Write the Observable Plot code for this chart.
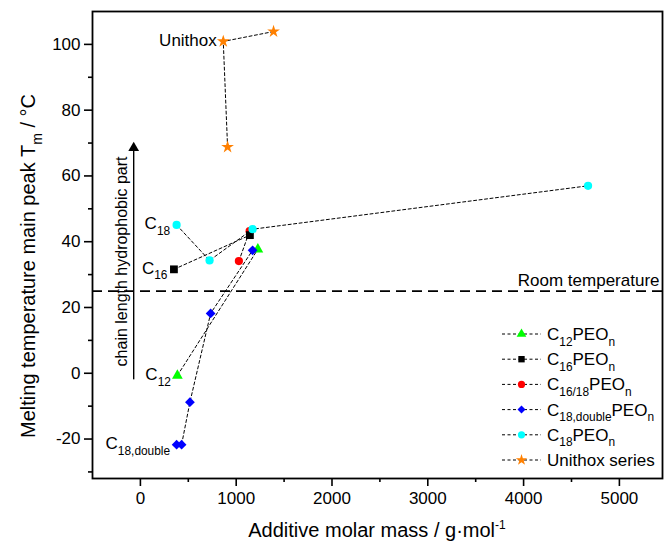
<!DOCTYPE html>
<html><head><meta charset="utf-8">
<script src="https://cdn.jsdelivr.net/npm/d3@7"></script>
<script src="https://cdn.jsdelivr.net/npm/@observablehq/plot@0.6"></script>
<style>body{margin:0;background:#fff;} svg{overflow:visible}</style>
</head><body><div id="chart"></div>
<script>
// ---- data ----
const seriesNames = ["C_{12}PEO_{n}", "C_{16}PEO_{n}", "C_{16/18}PEO_{n}", "C_{18,double}PEO_{n}", "C_{18}PEO_{n}", "Unithox series"];
const seriesColors = ["#00ff00", "#000000", "#ff0000", "#0000ff", "#00ffff", "#ff8000"];
const seriesSymbols = ["triangle", "square", "circle", "diamond2", "circle", "star"];
const massC12 = [386, 1226];            const tmC12 = [-0.7, 37.7];
const massC16 = [350, 1143];            const tmC16 = [31.6, 42.0];
const massC1618 = [1028, 1140];         const tmC1618 = [34.1, 43.2];
const massC18d = [378, 430, 517, 733, 1171]; const tmC18d = [-21.7, -21.7, -8.8, 18.2, 37.4];
const massC18 = [378, 722, 1171, 4673]; const tmC18 = [45.1, 34.3, 43.8, 57.0];
const massUni = [1390, 865, 910];       const tmUni = [103.9, 100.9, 68.8];
const roomTemp = 25;
const xMajor = [0, 1000, 2000, 3000, 4000, 5000];
const xMinor = [500, 1500, 2500, 3500, 4500];
const yMajor = [-20, 0, 20, 40, 60, 80, 100];
const yMinor = [-30, -10, 10, 30, 50, 70, 90];
// point annotations: [label, series index, point index]
const pointLabels = [["Unithox", 5, 1], ["C_{18}", 4, 0], ["C_{16}", 1, 0], ["C_{12}", 0, 0], ["C_{18,double}", 3, 0]];
const arrowX = -70, arrowY = [-2, 68.5];
const arrowText = "chain length hydrophobic part";

const massList = [massC12, massC16, massC1618, massC18d, massC18, massUni];
const tmList = [tmC12, tmC16, tmC1618, tmC18d, tmC18, tmUni];
const rows = [];
massList.forEach((ms, i) => ms.forEach((m, j) => rows.push({s: i, mass: m, tm: tmList[i][j]})));
const drawOrder = [0, 2, 1, 3, 4, 5];
const rVal = [4.0, 4.4, 4.1, 4.4, 4.1, 4.0];

const font = "'Liberation Sans', Arial, sans-serif";
const plot = Plot.plot({
  width: 665, height: 550,
  marginLeft: 92, marginRight: 3, marginTop: 11, marginBottom: 72,
  style: {fontFamily: font, fontSize: "17px", color: "black", background: "white"},
  x: {domain: [-500, 5450], label: null},
  y: {domain: [-32, 110], label: null},
  marks: [
    Plot.ruleY([roomTemp], {stroke: "black", strokeWidth: 1.8, strokeDasharray: "10,6"}),
    Plot.text([roomTemp], {x: 5450, y: d => d, text: () => "Room temperature", textAnchor: "end", lineAnchor: "bottom", dx: -3, dy: -5, fontSize: 17, fill: "black"}),
    Plot.line(rows, {x: "mass", y: "tm", z: "s", stroke: "black", strokeWidth: 1, strokeDasharray: "3,2.5"}),
    ...drawOrder.map(i => Plot.dot(rows.filter(d => d.s === i), {x: "mass", y: "tm", symbol: seriesSymbols[i], fill: seriesColors[i], r: rVal[i], stroke: null})),
    Plot.ruleX([arrowX], {y1: arrowY[0], y2: arrowY[1], stroke: "black", strokeWidth: 1.4}),
    Plot.dot([arrowX], {x: d => d, y: arrowY[1], symbol: "triangle", fill: "black", r: 4.0}),
    Plot.text([arrowText], {x: -195, y: 34, text: d => d, rotate: -90, fontSize: 16, fill: "black"}),
    Plot.axisX(xMajor, {tickSize: 8, tickPadding: 5, strokeWidth: 1.6, label: null, tickFormat: d => String(d)}),
    Plot.axisX(xMinor, {tickSize: 4, tickFormat: () => "", strokeWidth: 1.6, label: null}),
    Plot.axisY(yMajor, {tickSize: 8, tickPadding: 4, strokeWidth: 1.6, label: null, tickFormat: d => String(d)}),
    Plot.axisY(yMinor, {tickSize: 4, tickFormat: () => "", strokeWidth: 1.6, label: null}),
    Plot.frame({stroke: "black", strokeWidth: 1.8})
  ]
});
document.getElementById("chart").append(plot);

// ---- rich text helper (sub/superscripts) ----
function rich(g, str, size) {
  const parts = str.split(/(_\{[^}]*\}|\^\{[^}]*\})/).filter(p => p !== "");
  let shift = 0;
  parts.forEach(p => {
    const t = g.append("tspan");
    let target = 0, txt = p, fs = size;
    if (p.startsWith("_{")) { target = size * 0.33; txt = p.slice(2, -1); fs = size * 0.7; }
    else if (p.startsWith("^{")) { target = -size * 0.4; txt = p.slice(2, -1); fs = size * 0.6; }
    t.attr("dy", target - shift).attr("font-size", fs).text(txt);
    shift = target;
  });
}
const svg = d3.select(plot);
const sx = plot.scale("x"), sy = plot.scale("y");
const ann = svg.append("g").attr("font-family", font).attr("fill", "black");

// axis titles
const yt = ann.append("text").attr("transform", "translate(35,266) rotate(-90)").attr("text-anchor", "middle").attr("font-size", 20);
rich(yt, "Melting temperature main peak T_{m} / °C", 20);
const xt = ann.append("text").attr("x", (92 + 662) / 2).attr("y", 537).attr("text-anchor", "middle").attr("font-size", 20);
rich(xt, "Additive molar mass / g·mol^{-1}", 20);

// point labels
pointLabels.forEach(([lab, si, pj]) => {
  const t = ann.append("text").attr("x", sx.apply(massList[si][pj]) - 6).attr("y", sy.apply(tmList[si][pj]) + 5)
    .attr("text-anchor", "end").attr("font-size", 17);
  rich(t, lab, 17);
});

// legend
const lg = ann.append("g");
seriesNames.forEach((name, i) => {
  const y = 334 + i * 25.2;
  lg.append("line").attr("x1", 502).attr("x2", 541).attr("y1", y).attr("y2", y)
    .attr("stroke", "black").attr("stroke-width", 1).attr("stroke-dasharray", "3,2.5");
  const sym = {triangle: d3.symbolTriangle, square: d3.symbolSquare, circle: d3.symbolCircle, diamond2: d3.symbolDiamond2, star: d3.symbolStar}[seriesSymbols[i]];
  lg.append("path").attr("d", d3.symbol(sym, Math.PI * 3.6 * 3.6)()).attr("transform", `translate(521.5,${y})`).attr("fill", seriesColors[i]);
  const t = lg.append("text").attr("x", 547).attr("y", y + 6).attr("font-size", 17).attr("text-anchor", "start");
  rich(t, name, 17);
});
</script>
</body></html>
